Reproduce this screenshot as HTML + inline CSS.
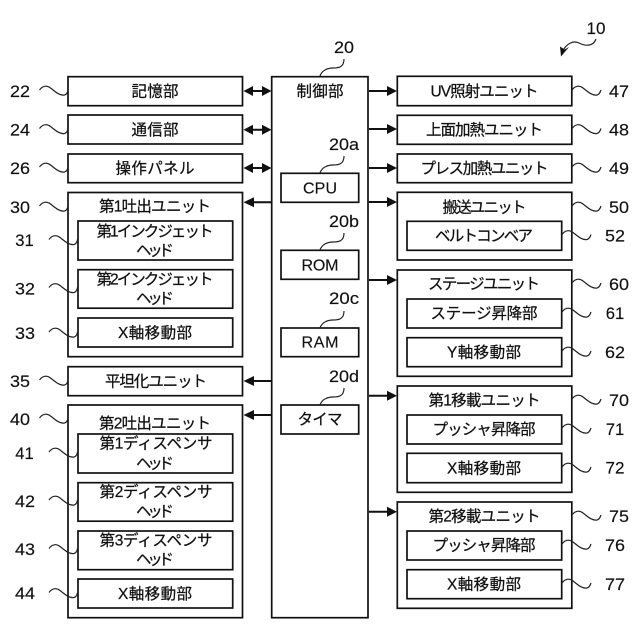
<!DOCTYPE html>
<html><head><meta charset="utf-8">
<style>
html,body{margin:0;padding:0;background:#fff;width:640px;height:640px;overflow:hidden}
svg{display:block}
text{font-family:"Liberation Sans","Noto Sans CJK JP",sans-serif;font-size:15.500px;fill:#111;stroke:#111;stroke-width:.25;text-anchor:middle}
.n{font-size:16.500px;stroke-width:.15}
.s{font-size:16px;stroke-width:.15}
rect{fill:#fff;stroke:#111;stroke-width:1.700}
.w{fill:none;stroke:#222;stroke-width:1.200}
.h{fill:#111}
</style></head><body>
<svg width="640" height="640" viewBox="0 0 640 640" xmlns="http://www.w3.org/2000/svg">
<defs>
<path id="sl" class="w" d="M0 -1 C3 -5 7 -6 11 -3 C15 0 20 5 25 4 C27 3.500 28 2 28.500 -1"/>
<path id="sr" class="w" d="M0 -1 C3 -5 7 -6 11 -3 C15 0 20 5 25 4 C27 3.500 28 2 29 -1"/>
<path id="su" class="w" d="M0 0 C2 -6 8 -8 13 -8 C19 -8 24 -9 24 -17"/>
<path id="ad" class="h" d="M243.500 0 L253 -5 L253 -1 L262 -1 L262 -5 L271.500 0 L262 5 L262 1 L253 1 L253 5 Z"/>
<path id="al" class="h" d="M243.500 0 L254 -5 L254 -1 L271 -1 L271 1 L254 1 L254 5 Z"/>
<path id="ar" class="h" d="M369 -1 L387 -1 L387 -5 L397 0 L387 5 L387 1 L369 1 Z"/>
</defs>

<!-- Left boxes -->
<rect x="68" y="76.700" width="174.500" height="29"/>
<rect x="68" y="115" width="174.500" height="29"/>
<rect x="68" y="154" width="174.500" height="28.700"/>
<rect x="68" y="192.500" width="174.500" height="164.200"/>
<rect x="78" y="221" width="154.700" height="39"/>
<rect x="78" y="269.700" width="154.700" height="38.500"/>
<rect x="78" y="318" width="154.700" height="29"/>
<rect x="68" y="366.700" width="174.500" height="29"/>
<rect x="68" y="405" width="174.500" height="212.700"/>
<rect x="78" y="434" width="154.700" height="39"/>
<rect x="78" y="482.700" width="154.700" height="38.500"/>
<rect x="78" y="531" width="154.700" height="38.700"/>
<rect x="78" y="579" width="154.700" height="29"/>

<!-- Controller -->
<rect x="271.700" y="76.700" width="96.300" height="541"/>
<rect x="281" y="173.300" width="77.700" height="29"/>
<rect x="281" y="250.300" width="77.700" height="29"/>
<rect x="281" y="328" width="77.700" height="28.700"/>
<rect x="281" y="405" width="77.700" height="29"/>

<!-- Right boxes -->
<rect x="397.300" y="76.300" width="174.500" height="29.400"/>
<rect x="397.300" y="115.300" width="174.500" height="29"/>
<rect x="397.300" y="154" width="174.500" height="28.700"/>
<rect x="397.300" y="192.300" width="174.500" height="67.700"/>
<rect x="407" y="221.300" width="154.700" height="29"/>
<rect x="397.300" y="270" width="174.500" height="106.300"/>
<rect x="407" y="299" width="154.700" height="29"/>
<rect x="407" y="337.700" width="154.700" height="29"/>
<rect x="397.300" y="386" width="174.500" height="106.300"/>
<rect x="407" y="415" width="154.700" height="29"/>
<rect x="407" y="453.300" width="154.700" height="29.400"/>
<rect x="397.300" y="502" width="174.500" height="106.300"/>
<rect x="407" y="531" width="154.700" height="29"/>
<rect x="407" y="569.700" width="154.700" height="29"/>

<!-- Arrows -->
<use href="#ad" y="91"/><use href="#ad" y="129.700"/><use href="#ad" y="168"/>
<use href="#al" y="202.300"/><use href="#al" y="381"/><use href="#al" y="415"/>
<use href="#ar" y="91"/><use href="#ar" y="129"/><use href="#ar" y="168"/>
<use href="#ar" y="202"/><use href="#ar" y="280"/><use href="#ar" y="395.700"/><use href="#ar" y="511.700"/>

<!-- Leader squiggles, left -->
<use href="#sl" x="39.500" y="91"/><use href="#sl" x="39.500" y="129.500"/><use href="#sl" x="39.500" y="168"/>
<use href="#sl" x="39.500" y="207"/><use href="#sl" x="49" y="240.500"/><use href="#sl" x="49" y="288.500"/>
<use href="#sl" x="49" y="333"/><use href="#sl" x="39.500" y="381"/><use href="#sl" x="39.500" y="419"/>
<use href="#sl" x="49" y="453"/><use href="#sl" x="49" y="501"/><use href="#sl" x="49" y="549.500"/><use href="#sl" x="49" y="593.500"/>

<!-- Leader squiggles, right -->
<use href="#sr" x="572" y="91"/><use href="#sr" x="572" y="129.500"/><use href="#sr" x="572" y="168"/>
<use href="#sr" x="572" y="207"/><use href="#sr" x="562" y="235.500"/><use href="#sr" x="572" y="284"/>
<use href="#sr" x="562" y="313"/><use href="#sr" x="562" y="352"/><use href="#sr" x="572" y="400"/>
<use href="#sr" x="562" y="429"/><use href="#sr" x="562" y="468"/><use href="#sr" x="572" y="516"/>
<use href="#sr" x="562" y="545"/><use href="#sr" x="562" y="584"/>

<!-- Leader squiggles, up -->
<use href="#su" x="320" y="76"/><use href="#su" x="320" y="173"/><use href="#su" x="320" y="250"/>
<use href="#su" x="320" y="328"/><use href="#su" x="320" y="405"/>

<!-- Reference 10 -->
<path class="w" d="M596 39 C593 47 585 46 579 43 C573 40 567 44 563 50"/>
<path class="h" d="M561 56.500 L560 46.500 L564.500 49.500 L569 47 Z"/>

<!-- Left labels -->
<text x="155" y="96.500" textLength="47">記憶部</text>
<text x="155" y="135" textLength="47">通信部</text>
<text x="155" y="173.500" textLength="79">操作パネル</text>
<text x="155" y="211.500" textLength="112">第1吐出ユニット</text>
<text x="155" y="236.500" textLength="117">第1インクジェット</text>
<text x="155" y="255.500" textLength="38">ヘッド</text>
<text x="155" y="284.500" textLength="117">第2インクジェット</text>
<text x="155" y="303.500" textLength="38">ヘッド</text>
<text x="155" y="338" textLength="74">X軸移動部</text>
<text x="156" y="386.500" textLength="102">平坦化ユニット</text>
<text x="155" y="428.500" textLength="112">第2吐出ユニット</text>
<text x="156" y="448.500" textLength="113">第1ディスペンサ</text>
<text x="155" y="468.500" textLength="38">ヘッド</text>
<text x="156" y="497" textLength="113">第2ディスペンサ</text>
<text x="155" y="516.500" textLength="38">ヘッド</text>
<text x="156" y="545.500" textLength="113">第3ディスペンサ</text>
<text x="155" y="564.500" textLength="38">ヘッド</text>
<text x="155" y="599" textLength="74">X軸移動部</text>

<!-- Controller labels -->
<text x="320" y="96.500" textLength="47">制御部</text>
<text class="s" x="320" y="193.500" textLength="34">CPU</text>
<text class="s" x="320" y="270.500" textLength="37">ROM</text>
<text class="s" x="320" y="347.500" textLength="37">RAM</text>
<text x="320" y="424.500" textLength="45">タイマ</text>

<!-- Right labels -->
<text x="484.500" y="96.500" textLength="108">UV照射ユニット</text>
<text x="484.500" y="135" textLength="117">上面加熱ユニット</text>
<text x="484.500" y="173.500" textLength="128">プレス加熱ユニット</text>
<text x="484.500" y="212.500" textLength="84">搬送ユニット</text>
<text x="484" y="241" textLength="98">ベルトコンベア</text>
<text x="484" y="289" textLength="112">ステージユニット</text>
<text x="484" y="318.500" textLength="107">ステージ昇降部</text>
<text x="484" y="357.500" textLength="74">Y軸移動部</text>
<text x="484.500" y="405.500" textLength="112">第1移載ユニット</text>
<text x="484" y="434.500" textLength="103">プッシャ昇降部</text>
<text x="484" y="473.500" textLength="74">X軸移動部</text>
<text x="484.500" y="521.500" textLength="112">第2移載ユニット</text>
<text x="484" y="550.500" textLength="103">プッシャ昇降部</text>
<text x="484" y="589.500" textLength="74">X軸移動部</text>

<!-- Reference numerals, left -->
<text class="n" x="20" y="97" textLength="20" lengthAdjust="spacingAndGlyphs">22</text>
<text class="n" x="20" y="135.500" textLength="20" lengthAdjust="spacingAndGlyphs">24</text>
<text class="n" x="20" y="174" textLength="20" lengthAdjust="spacingAndGlyphs">26</text>
<text class="n" x="20" y="213" textLength="20" lengthAdjust="spacingAndGlyphs">30</text>
<text class="n" x="24.500" y="246" textLength="18.500" lengthAdjust="spacingAndGlyphs">31</text>
<text class="n" x="25" y="294.500" textLength="20" lengthAdjust="spacingAndGlyphs">32</text>
<text class="n" x="25" y="339" textLength="20" lengthAdjust="spacingAndGlyphs">33</text>
<text class="n" x="20" y="387" textLength="20" lengthAdjust="spacingAndGlyphs">35</text>
<text class="n" x="20" y="425" textLength="20" lengthAdjust="spacingAndGlyphs">40</text>
<text class="n" x="24.500" y="459" textLength="18.500" lengthAdjust="spacingAndGlyphs">41</text>
<text class="n" x="25" y="507" textLength="20" lengthAdjust="spacingAndGlyphs">42</text>
<text class="n" x="25" y="555" textLength="20" lengthAdjust="spacingAndGlyphs">43</text>
<text class="n" x="25" y="599" textLength="20" lengthAdjust="spacingAndGlyphs">44</text>

<!-- Reference numerals, right -->
<text class="n" x="619" y="97" textLength="20" lengthAdjust="spacingAndGlyphs">47</text>
<text class="n" x="619" y="135.500" textLength="20" lengthAdjust="spacingAndGlyphs">48</text>
<text class="n" x="619" y="174" textLength="20" lengthAdjust="spacingAndGlyphs">49</text>
<text class="n" x="619" y="213" textLength="20" lengthAdjust="spacingAndGlyphs">50</text>
<text class="n" x="615" y="241.500" textLength="20" lengthAdjust="spacingAndGlyphs">52</text>
<text class="n" x="619" y="290" textLength="20" lengthAdjust="spacingAndGlyphs">60</text>
<text class="n" x="615" y="319" textLength="18.500" lengthAdjust="spacingAndGlyphs">61</text>
<text class="n" x="615" y="358" textLength="20" lengthAdjust="spacingAndGlyphs">62</text>
<text class="n" x="619" y="406" textLength="20" lengthAdjust="spacingAndGlyphs">70</text>
<text class="n" x="615" y="435" textLength="18.500" lengthAdjust="spacingAndGlyphs">71</text>
<text class="n" x="615" y="473.500" textLength="19" lengthAdjust="spacingAndGlyphs">72</text>
<text class="n" x="619" y="522" textLength="20" lengthAdjust="spacingAndGlyphs">75</text>
<text class="n" x="615" y="551" textLength="20" lengthAdjust="spacingAndGlyphs">76</text>
<text class="n" x="615" y="590" textLength="20" lengthAdjust="spacingAndGlyphs">77</text>

<!-- Reference numerals, top -->
<text class="n" x="344" y="53" textLength="20" lengthAdjust="spacingAndGlyphs">20</text>
<text class="n" x="344" y="150" textLength="30" lengthAdjust="spacingAndGlyphs">20a</text>
<text class="n" x="344" y="227" textLength="30" lengthAdjust="spacingAndGlyphs">20b</text>
<text class="n" x="344" y="304" textLength="30" lengthAdjust="spacingAndGlyphs">20c</text>
<text class="n" x="344" y="382" textLength="30" lengthAdjust="spacingAndGlyphs">20d</text>
<text class="n" x="596" y="34" textLength="19" lengthAdjust="spacingAndGlyphs">10</text>
</svg>
</body></html>
